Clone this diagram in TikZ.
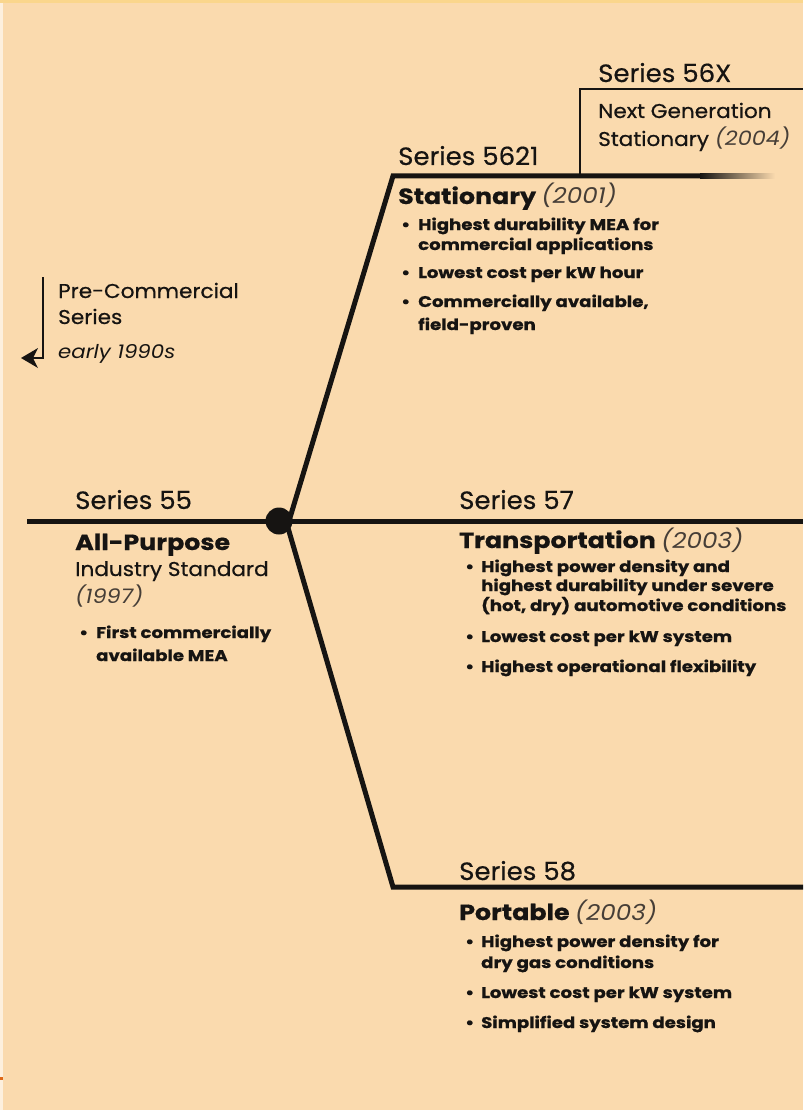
\documentclass[tikz,border=0pt]{standalone}
\usepackage{fontspec}
\setmainfont{Poppins}
\newfontfamily\serfont{Poppins}[FakeBold=0.5, FakeStretch=1.04]
\newfontfamily\subfont{Poppins}[FakeBold=0.5, FakeStretch=1.08]
\newfontfamily\headfont{Poppins}[FakeBold=0.6, FakeStretch=1.15]
\newfontfamily\yearfont{Poppins}[FakeStretch=1.12]
\newfontfamily\itemfont{Poppins}[FakeBold=0.8, FakeStretch=1.17]
\usetikzlibrary{arrows.meta}
\definecolor{bg}{RGB}{250,218,174}
\definecolor{topband}{RGB}{250,214,140}
\definecolor{ink}{RGB}{22,20,18}
\definecolor{yr}{RGB}{70,62,55}
\definecolor{tick}{RGB}{222,104,24}
\tikzset{
  lbl/.style={anchor=base west, inner sep=0, text=ink},
  serieslbl/.style={lbl, font=\serfont\fontsize{25}{28}\selectfont},
  headlbl/.style={lbl, font=\headfont\bfseries\fontsize{22}{26}\selectfont},
  sublbl/.style={lbl, font=\subfont\fontsize{20}{23}\selectfont},
  itemlbl/.style={lbl, font=\itemfont\bfseries\fontsize{15.5}{19}\selectfont},
  branch/.style={line width=5pt, draw=ink, line join=miter},
  thin/.style={line width=2pt, draw=ink},
}
\newcommand{\yrs}[1]{{\yearfont\mdseries\itshape\color{yr}#1}}
\begin{document}
\begin{tikzpicture}[x=1pt,y=-1pt]
\fill[bg] (0,0) rectangle (803,1110);
\useasboundingbox (0,0) rectangle (803,1110);
\fill[topband] (0,0) rectangle (803,3);
\fill[white, opacity=0.6] (0,3) rectangle (3,1110);
\fill[tick] (0,1077) rectangle (3,1080);

% junction and corners
\fill[ink] (279,521) circle (13.5) coordinate (hub);
\coordinate (mainL) at (27,521);
\coordinate (mainR) at (803,521);
\coordinate (hubU) at (289,521);
\coordinate (hubD) at (286,521);
\coordinate (c5621) at (393,176);
\coordinate (f5621) at (700,176);
\coordinate (e5621) at (775,176);
\coordinate (c58) at (393,887);
\coordinate (e58) at (803,887);
\coordinate (b56a) at (580,176);
\coordinate (b56b) at (580,89);
\coordinate (b56c) at (803,89);

\draw[branch] (mainL) -- (mainR);
\draw[branch] (hubU) -- (c5621) -- (f5621);
\shade[left color=ink, right color=bg] ([yshift=-2.5pt]f5621) rectangle ([yshift=2.5pt]e5621);
\draw[branch] (hubD) -- (c58) -- (e58);
\draw[thin] (b56a) -- (b56b) -- (b56c);

% pre-commercial arrow
\coordinate (pa) at (43,277);
\coordinate (pb) at (43,358);
\coordinate (pc) at (21,358);
\coordinate (pd) at (32,358);
\draw[line width=2.6pt, draw=ink, line join=miter] (pa) -- (pb) -- (pd);
\fill[ink] (pc) -- ++(17,-10) -- ++(-5,10) -- ++(5,10) -- cycle;
\node[sublbl] (pre1) at (58,298) {Pre-Commercial};
\node[sublbl] (pre2) at (58,324) {Series};
\node[lbl, font=\yearfont\itshape\fontsize{19}{22}\selectfont] (pre3) at (58,358) {early 1990s};

% Series 56X
\node[serieslbl] (s56) at (598,82) {Series 56X};
\node[sublbl] (s56a) at (598,118) {Next Generation};
\node[sublbl] (s56b) at (598,146) {Stationary \yrs{(2004)}};

% Series 5621
\node[serieslbl] (s5621) at (398,165) {Series 5621};
\node[headlbl] (h5621) at (398,204) {Stationary \yrs{(2001)}};
\node[itemlbl] (b1a) at (401,230) {•};
\node[itemlbl] (t1a) at (418,230) {Highest durability MEA for};
\node[itemlbl] (t1b) at (418,250) {commercial applications};
\node[itemlbl] (b1b) at (401,278) {•};
\node[itemlbl] (t1c) at (418,278) {Lowest cost per kW hour};
\node[itemlbl] (b1c) at (401,307) {•};
\node[itemlbl] (t1d) at (418,307) {Commercially available,};
\node[itemlbl] (t1e) at (418,330) {field-proven};

% Series 55
\node[serieslbl] (s55) at (75,509) {Series 55};
\node[headlbl] (h55) at (75,550) {All-Purpose};
\node[sublbl] (h55b) at (75,576) {Industry Standard};
\node[sublbl] (h55c) at (75,603) {\yrs{(1997)}};
\node[itemlbl] (b4a) at (79,638) {•};
\node[itemlbl] (t4a) at (96,638) {First commercially};
\node[itemlbl] (t4b) at (96,661) {available MEA};

% Series 57
\node[serieslbl] (s57) at (459,509) {Series 57};
\node[headlbl] (h57) at (459,548) {Transportation \yrs{(2003)}};
\node[itemlbl] (b2a) at (465,572) {•};
\node[itemlbl] (t2a) at (481,572) {Highest power density and};
\node[itemlbl] (t2b) at (481,591) {highest durability under severe};
\node[itemlbl] (t2c) at (481,611) {(hot, dry) automotive conditions};
\node[itemlbl] (b2b) at (465,642) {•};
\node[itemlbl] (t2d) at (481,642) {Lowest cost per kW system};
\node[itemlbl] (b2c) at (465,672) {•};
\node[itemlbl] (t2e) at (481,672) {Highest operational flexibility};

% Series 58
\node[serieslbl] (s58) at (459,880) {Series 58};
\node[headlbl] (h58) at (459,920) {Portable \yrs{(2003)}};
\node[itemlbl] (b3a) at (465,947) {•};
\node[itemlbl] (t3a) at (481,947) {Highest power density for};
\node[itemlbl] (t3b) at (481,968) {dry gas conditions};
\node[itemlbl] (b3b) at (465,998) {•};
\node[itemlbl] (t3c) at (481,998) {Lowest cost per kW system};
\node[itemlbl] (b3c) at (465,1028) {•};
\node[itemlbl] (t3d) at (481,1028) {Simplified system design};
\end{tikzpicture}
\end{document}
